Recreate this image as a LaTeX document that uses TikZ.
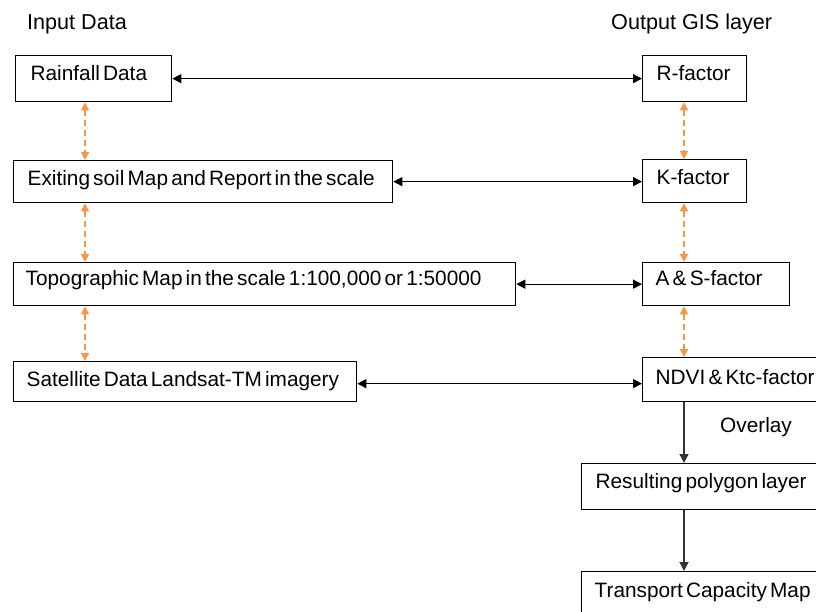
\documentclass[tikz,border=0pt]{standalone}
\usepackage{fontspec}
\setmainfont{Liberation Sans}
\usetikzlibrary{arrows.meta}
\definecolor{orng}{RGB}{247,150,70}
\newcommand{\tightfont}{\fontsize{20.8}{24}\selectfont}
\newcommand{\ts}{\spaceskip=0.55\fontdimen2\font\relax\xspaceskip=\spaceskip}
\begin{document}
\begin{tikzpicture}[x=1pt,y=-1pt,
  every node/.style={font=\tightfont},
  box/.style={draw,line width=1.3pt,anchor=north west,align=left,inner ysep=0pt},
  hdr/.style={anchor=west,inner sep=0pt,font=\fontsize{21.6}{24}\selectfont},
  arr/.style={line width=1.3pt,{Triangle[length=9pt,width=9pt]}-{Triangle[length=9pt,width=9pt]}},
  oarr/.style={orng,line width=1.4pt,dash pattern=on 6pt off 4pt,{Triangle[length=8pt,width=8pt]}-{Triangle[length=8pt,width=8pt]}},
  garr/.style={black!80,line width=1.3pt,-{Triangle[length=9pt,width=9pt]}}]
\useasboundingbox (0,0) rectangle (816,612);
% headers
\node[hdr] (hin) at (27,24) {Input Data};
\node[hdr] (hout) at (611,24) {Output GIS layer};
% left column
\node[box,inner xsep=15pt,text width=126pt,text height=25pt,text depth=21pt] (rain) at (15,55) {\ts Rainfall Data};
\node[box,inner xsep=14pt,text width=351pt,text height=25pt,text depth=17pt] (soil) at (13,160) {\ts Exiting soil Map and Report in the scale};
\node[box,inner xsep=12pt,text width=478pt,text height=23pt,text depth=20pt] (topo) at (13,262) {\ts Topographic Map in the scale 1:100,000 or 1:50000};
\node[box,inner xsep=13pt,text width=317pt,text height=25pt,text depth=15pt] (sat) at (13,361) {\ts Satellite Data Landsat-TM imagery};
% right column
\node[box,inner xsep=14pt,text width=76pt,text height=25pt,text depth=21pt] (rf) at (642,55) {\ts R-factor};
\node[box,inner xsep=14pt,text width=76pt,text height=25pt,text depth=18pt] (kf) at (642,159) {\ts K-factor};
\node[box,inner xsep=13pt,text width=121pt,text height=23pt,text depth=20pt] (asf) at (642,262) {\ts A \& S-factor};
\node[box,inner xsep=13pt,text width=190pt,text height=27pt,text depth=17pt] (ndvi) at (642,357) {\ts\mbox{NDVI \& Ktc-factor}};
\node[box,inner xsep=14pt,text width=230pt,text height=25pt,text depth=21pt] (res) at (581,463) {\ts\mbox{Resulting polygon layer}};
\node[box,inner xsep=13pt,text width=240pt,text height=26pt,text depth=33pt] (tcm) at (581,571) {\ts\mbox{Transport Capacity Map}};
\node (ovl) at (756,427) {Overlay};
% horizontal connectors
\draw[arr] (rain.east) -- (rain.east -| rf.west);
\draw[arr] (soil.east) -- (soil.east -| kf.west);
\draw[arr] (topo.east) -- (topo.east -| asf.west);
\draw[arr] ([yshift=-2pt]sat.east) -- ([yshift=-2pt]sat.east -| ndvi.west);
% orange dashed connectors
\draw[oarr] ([xshift=70pt]rain.south west) -- ([xshift=70pt]rain.south west |- soil.north);
\draw[oarr] ([xshift=72pt]soil.south west) -- ([xshift=72pt]soil.south west |- topo.north);
\draw[oarr] ([xshift=72pt]topo.south west) -- ([xshift=72pt]topo.south west |- sat.north);
\draw[oarr] ([xshift=42pt]rf.south west) -- ([xshift=42pt]rf.south west |- kf.north);
\draw[oarr] ([xshift=42pt]kf.south west) -- ([xshift=42pt]kf.south west |- asf.north);
\draw[oarr] ([xshift=42pt]asf.south west) -- ([xshift=42pt]asf.south west |- ndvi.north);
% overlay flow
\draw[garr] ([xshift=42pt]ndvi.south west) -- ([xshift=42pt]ndvi.south west |- res.north);
\draw[garr] ([xshift=103pt]res.south west) -- ([xshift=103pt]res.south west |- tcm.north);
\end{tikzpicture}
\end{document}
